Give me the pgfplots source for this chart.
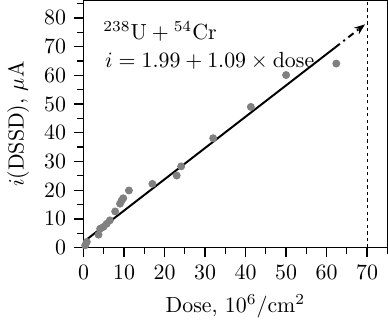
\documentclass[border=0pt]{standalone}
\usepackage{pgfplots}
\pgfplotsset{compat=1.18}
\usetikzlibrary{arrows.meta}
\definecolor{dotgray}{RGB}{128,128,128}
\begin{document}
\begin{tikzpicture}
\begin{axis}[
  scale only axis, width=139pt, height=113pt,
  xmin=0, xmax=75, ymin=0, ymax=86,
  xtick={0,10,...,70}, ytick={0,10,...,80},
  minor xtick={5,15,...,75}, minor ytick={5,15,...,85},
  tick align=outside, tick pos=left,
  major tick length=4.5pt, minor tick length=3pt,
  axis line style={line width=0.6pt},
  every tick/.style={black, line width=0.6pt},
  xlabel={Dose, $10^6/\mathrm{cm}^2$},
  ylabel={$i(\mathrm{DSSD})$, $\mu$A},
  clip=false,
]
\addplot[only marks, mark=*, mark size=1.6pt, color=dotgray] coordinates {
(0.4,0.8) (0.8,2.0) (3.7,4.5) (4.1,6.6) (4.9,7.2) (5.7,8.3) (6.5,9.5)
(7.8,12.6) (9.0,15.3) (9.4,16.4) (9.8,17.2) (11.2,19.9) (17.0,22.2)
(23.0,25.1) (24.1,28.3) (32.0,38.1) (41.3,49.0) (50.0,60.1) (62.4,64.1)
};
\addplot[black, line width=0.9pt] coordinates {(0,1.99) (62,69.57)};
\addplot[black, line width=0.9pt, dash dot, -{Stealth[length=5pt]}] coordinates {(62,69.57) (69.5,77.75)};
\addplot[black, line width=0.5pt, dash pattern=on 1.5pt off 1.5pt] coordinates {(70,0) (70,86)};
\node[anchor=base west, inner sep=0pt] at (axis cs:4.8,72.5) {$^{238}\mathrm{U} + {}^{54}\mathrm{Cr}$};
\node[anchor=base west, inner sep=0pt] at (axis cs:5.2,62.8) {$i = 1.99 + 1.09 \times \mathrm{dose}$};
\end{axis}
\end{tikzpicture}
\end{document}
